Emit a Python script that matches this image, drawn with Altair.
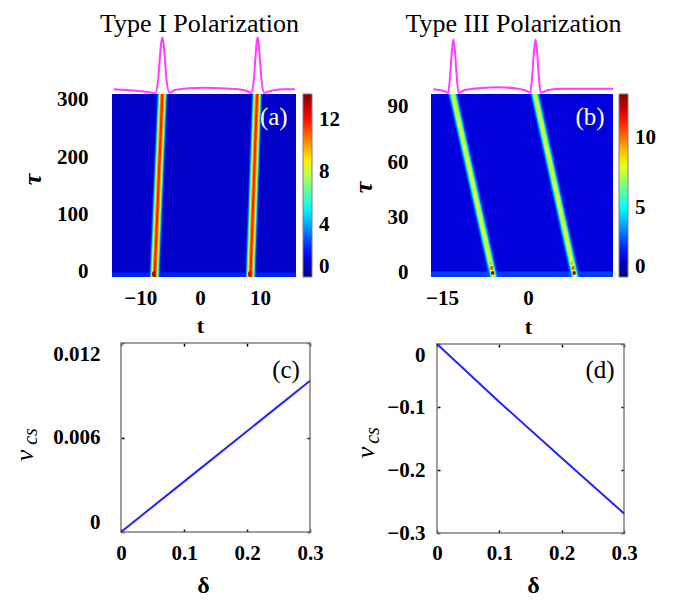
import altair as alt
import pandas as pd

FONT = "Liberation Serif"
JET = ["#00007f", "#0000ff", "#00ffff", "#ffff00", "#ff0000", "#7f0000"]
JET_POS = [0.0, 0.125, 0.375, 0.625, 0.875, 1.0]
PINK = "#ff3cff"
BLUE = "#2323ff"
FRAME = "#808080"
W, H = 666, 593

# ---------------- panel (a): Type I ----------------
a_t_lim = [-14.7, 16.0]
a_tau_lim = [-9.0, 310.0]
a_cmax = 14.0
a_cbar_ticks = [0, 4, 8, 12]
a_t_ticks = [-10, 0, 10]
a_tau_ticks = [0, 100, 200, 300]
a_background = 1.0
a_band_tau = [-9.0, -1.0]
a_band_value = 2.2
a_track_t_bottom = [-7.6, 8.4]
a_track_t_top = [-6.3, 9.5]
a_level_value = [2.6, 4.5, 6.5, 8.5, 10.3, 11.8]
a_level_halfwidth = [0.9, 0.72, 0.6, 0.48, 0.34, 0.17]
a_spot_t = [-7.7, 8.3]
a_spot_tau = [-4.0, -4.0]
a_spot_value = [13.5, 12.5]
a_spot_half = [0.3, 5.0]
a_prof_t = [-14.4, -12.5, -10.3, -8.6, -7.5, -7.0, -6.7, -6.5, -6.3, -6.1, -5.9, -5.6, -5.1,
            -4.2, -1.9, 0.8, 3.6, 6.4, 8.1, 8.6, 8.95, 9.25, 9.42, 9.6, 9.78, 9.95, 10.25, 10.7,
            11.9, 14.2, 15.8]
a_prof_I = [1.15, 0.98, 0.74, 0.49, 0.17, 3.4, 9.2, 12.5, 13.9, 12.5, 9.2, 3.4, 0.32,
            0.98, 1.4, 1.55, 1.4, 1.15, 0.56, 0.17, 3.4, 9.2, 12.5, 13.9, 12.5, 9.2, 3.4, 0.32,
            0.81, 1.15, 1.15]
a_label = ["(a)", 12.3, 270.0]

# ---------------- panel (b): Type III ----------------
b_t_lim = [-16.9, 14.8]
b_tau_lim = [-2.2, 97.0]
b_cmax = 13.2
b_cbar_ticks = [0, 5, 10]
b_t_ticks = [-15, 0, 15]
b_tau_ticks = [0, 30, 60, 90]
b_background = 1.2
b_band_tau = [-2.2, 0.8]
b_band_value = 2.4
b_glow_t = [-6.2, 8.0]
b_glow_tau = [-2.2, 1.2]
b_glow_halfwidth = 0.9
b_glow_value = 3.0
b_track_t_bottom = [-6.0, 8.2]
b_track_t_top = [-13.1, 1.2]
b_level_value = [2.6, 4.0, 5.5, 7.0, 7.9]
b_level_halfwidth = [0.85, 0.62, 0.48, 0.34, 0.18]
b_spot_t = [-6.16, -6.35, -6.54, 8.04, 7.85, 7.66]
b_spot_tau = [0.0, 2.7, 5.4, 0.0, 2.7, 5.4]
b_spot_value = [12.8, 10.5, 9.0, 12.8, 10.5, 9.0]
b_spot_half = [0.28, 1.0]
b_prof_t = [-16.5, -14.7, -13.9, -13.5, -13.25, -13.0, -12.75, -12.5, -12.1,
            -11.0, -8.6, -5.2, -1.7, -0.2, 0.4, 0.8, 1.05, 1.3, 1.55, 1.8, 2.2,
            3.5, 6.4, 11.1, 14.8]
b_prof_I = [1.15, 0.74, 0.32, 5.9, 10.8, 13.4, 10.8, 5.9, 0.32,
            0.98, 1.4, 1.65, 1.3, 0.74, 0.32, 5.9, 10.8, 13.4, 10.8, 5.9, 0.32,
            0.98, 1.3, 1.3, 1.3]
b_label = ["(b)", 10.8, 84.6]

# ---------------- panels (c), (d) ----------------
c_delta = [0.0, 0.1, 0.2, 0.3]
c_v = [0.0, 0.0032, 0.0064, 0.0096]
c_x_lim = [0.0, 0.3]
c_y_lim = [0.0, 0.012]
c_x_ticks = [0, 0.1, 0.2, 0.3]
c_y_ticks = [0, 0.006, 0.012]
c_label = ["(c)", 0.262, 0.0103]

d_delta = [0.0, 0.1, 0.2, 0.3]
d_v = [0.0, -0.092, -0.181, -0.269]
d_x_lim = [0.0, 0.3]
d_y_lim = [-0.3, 0.0]
d_x_ticks = [0, 0.1, 0.2, 0.3]
d_y_ticks = [0, -0.1, -0.2, -0.3]
d_label = ["(d)", 0.2615, -0.041]


def lin(domain, rng):
    return alt.Scale(domain=domain, range=rng, nice=False, zero=False)


def heat_panel(t_lim, tau_lim, cmax, cbar_ticks, background,
               band_tau, band_value, glow, tb, tt, lv, lhw, spot_t, spot_tau, spot_v,
               spot_half, label, x_px, y_px, legend_x, xaxis, yaxis):
    xs = lin(t_lim, x_px)
    ys = lin(tau_lim, y_px)
    cs = alt.Scale(domain=[f * cmax for f in JET_POS], range=JET, interpolate="rgb")
    leg = alt.Legend(orient="none", legendX=legend_x, legendY=y_px[1], direction="vertical",
                     title=None, gradientLength=y_px[0] - y_px[1], gradientThickness=9,
                     values=cbar_ticks, labelFont=FONT, labelFontSize=21,
                     labelFontWeight="bold", labelColor="black", labelOffset=7,
                     labelBaseline="middle",
                     gradientStrokeColor=FRAME, gradientStrokeWidth=1, padding=0,
                     labelOverlap=False)
    col = alt.Color("v:Q", scale=cs, legend=leg)

    rows = [dict(t0=t_lim[0], t1=t_lim[1], tau0=tau_lim[0], tau1=tau_lim[1], v=background),
            dict(t0=t_lim[0], t1=t_lim[1], tau0=band_tau[0], tau1=band_tau[1], v=band_value)]
    if glow is not None:
        for gt in glow["t"]:
            rows.append(dict(t0=gt - glow["hw"], t1=gt + glow["hw"], tau0=glow["tau"][0],
                             tau1=glow["tau"][1], v=glow["v"]))
    cells = pd.DataFrame(rows)
    layers = [alt.Chart(cells).mark_rect().encode(
        x=alt.X("t0:Q", scale=xs, axis=xaxis),
        x2="t1:Q",
        y=alt.Y("tau0:Q", scale=ys, axis=yaxis),
        y2="tau1:Q",
        color=col)]

    srows = []
    for k, (b, t) in enumerate(zip(tb, tt)):
        for j, (v, hw) in enumerate(zip(lv, lhw)):
            srows.append(dict(track=k, level=j, tau=tau_lim[0], lo=b - hw, hi=b + hw, v=v))
            srows.append(dict(track=k, level=j, tau=tau_lim[1], lo=t - hw, hi=t + hw, v=v))
    stripes = pd.DataFrame(srows)
    for j in range(len(lv)):
        layers.append(alt.Chart(stripes).transform_filter(alt.datum.level == j)
                      .mark_area(orient="horizontal").encode(
            y=alt.Y("tau:Q", scale=ys, axis=None),
            x=alt.X("lo:Q", scale=xs, axis=None),
            x2="hi:Q",
            detail="track:N",
            color=col))

    spots = pd.DataFrame(dict(t0=[t - spot_half[0] for t in spot_t],
                              t1=[t + spot_half[0] for t in spot_t],
                              tau0=[s - spot_half[1] for s in spot_tau],
                              tau1=[s + spot_half[1] for s in spot_tau],
                              v=spot_v))
    layers.append(alt.Chart(spots).mark_rect(cornerRadius=2).encode(
        x=alt.X("t0:Q", scale=xs, axis=None), x2="t1:Q",
        y=alt.Y("tau0:Q", scale=ys, axis=None), y2="tau1:Q",
        color=col))

    lab = pd.DataFrame(dict(text=[label[0]], t=[label[1]], tau=[label[2]]))
    layers.append(alt.Chart(lab).mark_text(font=FONT, fontSize=25, color="white",
                                           align="center", baseline="middle").encode(
        x=alt.X("t:Q", scale=xs, axis=None),
        y=alt.Y("tau:Q", scale=ys, axis=None),
        text="text:N"))
    return alt.layer(*layers).resolve_axis(x="independent", y="independent")


def profile(t, I, t_lim, x_px, title, title_x):
    df = pd.DataFrame(dict(t=t, I=I))
    return alt.Chart(df).mark_line(color=PINK, strokeWidth=2, interpolate="monotone").encode(
        x=alt.X("t:Q", scale=lin(t_lim, x_px),
                axis=alt.Axis(orient="top", offset=0, labels=False, ticks=False, domain=False,
                              title=title, titleX=title_x, titleY=23,
                              titleBaseline="alphabetic", titleAlign="center",
                              titleFontSize=26, titleFontWeight="normal")),
        y=alt.Y("I:Q", scale=lin([0, 14], [86, 29]), axis=None))


def heat_axes(t_ticks, tau_ticks, x_off, y_off, lab_pad_y, t_title_x, t_title_y, tau_x, tau_y):
    xa = alt.Axis(orient="bottom", offset=x_off, values=t_ticks, ticks=False, tickSize=0,
                  domain=False, labelPadding=10, title="t", titleX=t_title_x,
                  titleY=t_title_y, titleBaseline="middle", titleAlign="center",
                  titleFontSize=22, titleFontWeight="bold")
    ya = alt.Axis(orient="left", offset=y_off, values=tau_ticks, ticks=False, tickSize=0,
                  domain=False, labelPadding=lab_pad_y, title="τ", titleX=tau_x,
                  titleY=tau_y, titleAngle=270, titleAlign="center", titleBaseline="middle",
                  titleFontSize=26, titleFontWeight="bold", titleFontStyle="italic")
    return xa, ya


axa, aya = heat_axes(a_t_ticks, a_tau_ticks, 269 - H, -104, 24, 192, 48, -80, 171)
axb, ayb = heat_axes(b_t_ticks, b_tau_ticks, 269 - H, -423, 23, 520, 49, -68, 179)

heat_a = heat_panel(a_t_lim, a_tau_lim, a_cmax, a_cbar_ticks,
                    a_background, a_band_tau, a_band_value, None,
                    a_track_t_bottom, a_track_t_top, a_level_value, a_level_halfwidth,
                    a_spot_t, a_spot_tau, a_spot_value, a_spot_half, a_label,
                    [104, 288], [269, 86], 295, axa, aya)
heat_b = heat_panel(b_t_lim, b_tau_lim, b_cmax, b_cbar_ticks,
                    b_background, b_band_tau, b_band_value,
                    dict(t=b_glow_t, tau=b_glow_tau, hw=b_glow_halfwidth, v=b_glow_value),
                    b_track_t_bottom, b_track_t_top, b_level_value, b_level_halfwidth,
                    b_spot_t, b_spot_tau, b_spot_value, b_spot_half, b_label,
                    [423, 605], [269, 86], 611, axb, ayb)

prof_a = profile(a_prof_t, a_prof_I, a_t_lim, [104, 288], "Type I Polarization", 191)
prof_b = profile(b_prof_t, b_prof_I, b_t_lim, [423, 605], "Type III Polarization", 505)


def line_panel(delta, v, x_lim, y_lim, x_ticks, y_ticks, y_fmt, label, x_px, y_px,
               off_b, off_l, off_t, off_r, pad_b, pad_l, dx, dy, vx, vy, csx, csy,
               y_baseline, y_flush):
    xs = lin(x_lim, x_px)
    ys = lin(y_lim, y_px)
    frame = pd.DataFrame(dict(x0=[x_lim[0]], x1=[x_lim[1]], y0=[y_lim[0]], y1=[y_lim[1]]))
    frame_layer = alt.Chart(frame).mark_rect(fillOpacity=0, stroke=FRAME, strokeWidth=1.5).encode(
        x=alt.X("x0:Q", scale=xs,
                axis=alt.Axis(orient="top", offset=off_t, values=x_ticks, labels=False,
                              domain=False, tickSize=3, tickWidth=1.5, title="")),
        x2="x1:Q",
        y=alt.Y("y0:Q", scale=ys,
                axis=alt.Axis(orient="right", offset=off_r, values=y_ticks, labels=False,
                              domain=False, tickSize=3, tickWidth=1.5, title="")),
        y2="y1:Q")
    df = pd.DataFrame(dict(delta=delta, v=v))
    yaxis_kw = dict(orient="left", offset=off_l, values=y_ticks, format=y_fmt, domain=False,
                    tickSize=3, tickWidth=1.5, labelPadding=pad_l, title="v",
                    titleX=vx, titleY=vy, titleAngle=270, titleAlign="center",
                    titleBaseline="middle", titleFontSize=26, titleFontWeight="normal",
                    titleFontStyle="italic", labelFlush=y_flush)
    if y_baseline is not None:
        yaxis_kw["labelBaseline"] = y_baseline
    line_layer = alt.Chart(df).mark_line(color=BLUE, strokeWidth=2).encode(
        x=alt.X("delta:Q", scale=xs,
                axis=alt.Axis(orient="bottom", offset=off_b, values=x_ticks, format="~g",
                              domain=False, tickSize=3, tickWidth=1.5, labelPadding=pad_b,
                              title="δ", titleX=dx, titleY=dy, titleBaseline="middle",
                              titleAlign="center", titleFontSize=24, titleFontWeight="bold")),
        y=alt.Y("v:Q", scale=ys, axis=alt.Axis(**yaxis_kw)))
    lab = pd.DataFrame(dict(text=[label[0]], x=[label[1]], y=[label[2]]))
    text_layer = alt.Chart(lab).mark_text(font=FONT, fontSize=25, color="black",
                                          align="center", baseline="middle").encode(
        x=alt.X("x:Q", scale=xs, axis=None),
        y=alt.Y("y:Q", scale=ys,
                axis=alt.Axis(orient="left", offset=off_l, labels=False, ticks=False,
                              domain=False, title="cs", titleX=csx, titleY=csy,
                              titleAngle=270, titleAlign="center", titleBaseline="middle",
                              titleFontSize=20, titleFontWeight="normal",
                              titleFontStyle="italic")),
        text="text:N")
    return alt.layer(frame_layer, line_layer, text_layer).resolve_axis(
        x="independent", y="independent")


panel_c = line_panel(c_delta, c_v, c_x_lim, c_y_lim, c_x_ticks, c_y_ticks, ".3~f", c_label,
                     [113, 302], [524, 335], 521 - H, -116, -338, 299 - W, 10, 21,
                     195, 56, -100, 447, -94, 428, None, True)
panel_d = line_panel(d_delta, d_v, d_x_lim, d_y_lim, d_x_ticks, d_y_ticks, ".1~f", d_label,
                     [429, 616], [525, 336], 522 - H, -432, -339, 613 - W, 9, 12,
                     525, 55, -75, 444, -68, 427,
                     {"condition": {"test": "datum.value == 0", "value": "top"},
                      "value": "middle"}, False)

chart = (
    alt.layer(prof_a, prof_b, heat_a, heat_b, panel_c, panel_d)
    .resolve_scale(x="independent", y="independent", color="independent")
    .resolve_legend(color="independent")
    .properties(width=W, height=H, autosize=alt.AutoSizeParams(type="none"), padding=0)
    .configure_view(strokeWidth=0)
    .configure_axis(labelFont=FONT, labelFontSize=21, labelFontWeight="bold",
                    labelColor="black", titleFont=FONT, titleColor="black",
                    tickColor="black", grid=False, labelFlush=False, labelOverlap=False)
)

chart.save("out.html", embed_options={"renderer": "svg", "actions": False})
